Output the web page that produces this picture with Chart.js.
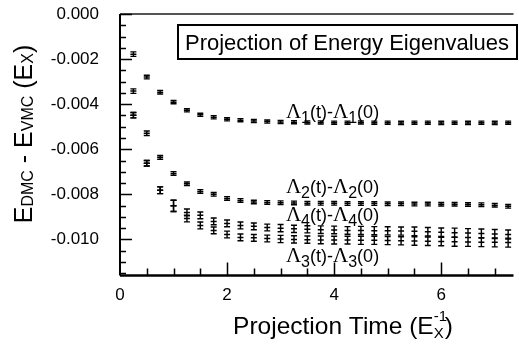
<!DOCTYPE html>
<html>
<head>
<meta charset="utf-8">
<script src="https://cdn.jsdelivr.net/npm/chart.js@4.4.0/dist/chart.umd.min.js"></script>
<style>
  html, body { margin: 0; padding: 0; background: #fff; }
  #wrap { width: 519px; height: 345px; }
</style>
</head>
<body>
<div id="wrap"><canvas id="chart"></canvas></div>
<script>
// projection times (1/E_X)
const times = [0.25, 0.5, 0.75, 1.0, 1.25, 1.5, 1.75, 2.0, 2.25, 2.5, 2.75, 3.0, 3.25, 3.5, 3.75,
               4.0, 4.25, 4.5, 4.75, 5.0, 5.25, 5.5, 5.75, 6.0, 6.25, 6.5, 6.75, 7.0, 7.25];

const lambda1 = [-0.00178, -0.00280, -0.00347, -0.00391, -0.00427, -0.00447, -0.00458, -0.00467, -0.00471, -0.00475,
                 -0.00477, -0.00479, -0.00480, -0.00481, -0.00481, -0.00482, -0.00482, -0.00481, -0.00482, -0.00482,
                 -0.00483, -0.00482, -0.00482, -0.00483, -0.00482, -0.00483, -0.00482, -0.00483, -0.00482];
const lambda1Err = [0.0001, 0.00008, 0.00008, 0.00007, 0.00007, 0.00007, 0.00007, 0.00007, 0.00007, 0.00007,
                    0.00007, 0.00007, 0.00007, 0.00007, 0.00007, 0.00007, 0.00007, 0.00007, 0.00007, 0.00007,
                    0.00007, 0.00007, 0.00007, 0.00007, 0.00007, 0.00007, 0.00007, 0.00007, 0.00007];

const lambda2 = [-0.00342, -0.00529, -0.00636, -0.00707, -0.00753, -0.00787, -0.00800, -0.00818, -0.00827, -0.00834,
                 -0.00836, -0.00837, -0.00838, -0.00839, -0.00840, -0.00840, -0.00841, -0.00841, -0.00841, -0.00842,
                 -0.00842, -0.00843, -0.00843, -0.00844, -0.00844, -0.00845, -0.00846, -0.00848, -0.00853];
const lambda2Err = [0.0001, 0.0001, 0.00008, 0.00008, 0.00008, 0.00008, 0.00008, 0.00008, 0.00008, 0.00008,
                    0.00008, 0.00008, 0.00008, 0.00008, 0.00008, 0.00008, 0.00008, 0.00008, 0.00008, 0.00008,
                    0.00008, 0.00008, 0.00008, 0.00008, 0.00008, 0.00008, 0.00008, 0.00008, 0.00008];

const lambda3 = [-0.00449, -0.00662, -0.00782, -0.00851, -0.00907, -0.00938, -0.00960, -0.00978, -0.00991, -0.00993,
                 -0.00996, -0.00998, -0.01000, -0.01001, -0.01002, -0.01003, -0.01003, -0.01004, -0.01004, -0.01005,
                 -0.01006, -0.01007, -0.01008, -0.01009, -0.01010, -0.01011, -0.01012, -0.01013, -0.01014];
const lambda3Err = [0.00012, 0.00012, 0.00015, 0.00025, 0.00015, 0.00015, 0.00015, 0.00015, 0.00015, 0.00015,
                    0.00015, 0.00016, 0.00016, 0.00016, 0.00017, 0.00017, 0.00017, 0.00018, 0.00018, 0.00018,
                    0.00018, 0.00019, 0.00019, 0.00019, 0.0002, 0.0002, 0.0002, 0.0002, 0.0002];

const lambda4 = [-0.00449, -0.00662, -0.00782, -0.00851, -0.00880, -0.00893, -0.00920, -0.00929, -0.00938, -0.00942,
                 -0.00947, -0.00950, -0.00953, -0.00955, -0.00957, -0.00958, -0.00960, -0.00960, -0.00961, -0.00962,
                 -0.00963, -0.00964, -0.00966, -0.00968, -0.00970, -0.00972, -0.00974, -0.00976, -0.00978];
const lambda4Err = [0.00012, 0.00012, 0.00015, 0.00025, 0.00015, 0.00015, 0.00015, 0.00015, 0.00015, 0.00015,
                    0.00015, 0.00016, 0.00016, 0.00016, 0.00017, 0.00017, 0.00017, 0.00018, 0.00018, 0.00018,
                    0.00018, 0.00019, 0.00019, 0.00019, 0.0002, 0.0002, 0.0002, 0.0002, 0.0002];

const seriesNames = ['1', '2', '3', '4'];
// where each curve label ends (data coords: t, energy)
const labelAnchors = [[4.84, -0.00462], [4.84, -0.00796], [4.84, -0.01098], [4.84, -0.00920]];

const xTicks = [0, 2, 4, 6];
const yTicks = [0, -0.002, -0.004, -0.006, -0.008, -0.010];

const SANS = "'Liberation Sans', Arial, sans-serif";
const SERIF = "'Liberation Serif', 'Times New Roman', serif";

function pts(vals) { return vals.map((v, i) => ({ x: times[i], y: v })); }

// draw a run of text pieces with different fonts / baseline shifts
function drawRuns(ctx, runs, x, y, align) {
  let w = 0;
  runs.forEach(r => { ctx.font = r.f; w += ctx.measureText(r.t).width; });
  let cx = align === 'right' ? x - w : align === 'center' ? x - w / 2 : x;
  runs.forEach(r => {
    ctx.font = r.f;
    ctx.fillText(r.t, cx, y + (r.dy || 0));
    cx += ctx.measureText(r.t).width;
  });
}

const decor = {
  id: 'decor',
  afterDatasetsDraw(chart) {
    const { ctx, scales: { x, y } } = chart;
    ctx.save();
    ctx.strokeStyle = '#000';
    ctx.lineWidth = 1.4;
    // error bars
    chart.data.datasets.forEach(ds => {
      ds.data.forEach((p, j) => {
        const px = x.getPixelForValue(p.x);
        const top = y.getPixelForValue(p.y + ds.errors[j]);
        const bot = y.getPixelForValue(p.y - ds.errors[j]);
        ctx.beginPath();
        ctx.moveTo(px, top); ctx.lineTo(px, bot);
        ctx.moveTo(px - 3, top); ctx.lineTo(px + 3, top);
        ctx.moveTo(px - 3, bot); ctx.lineTo(px + 3, bot);
        ctx.stroke();
      });
    });
    ctx.restore();
  },
  afterDraw(chart) {
    const { ctx, chartArea: a, scales: { x, y } } = chart;
    ctx.save();
    // frame
    ctx.strokeStyle = '#555';
    ctx.lineWidth = 2;
    ctx.beginPath(); ctx.moveTo(a.left, a.top); ctx.lineTo(a.right, a.top); ctx.stroke();
    ctx.strokeStyle = '#000';
    ctx.lineWidth = 2;
    ctx.beginPath(); ctx.moveTo(a.left, a.top); ctx.lineTo(a.left, a.bottom); ctx.stroke();
    ctx.lineWidth = 2.5;
    ctx.beginPath(); ctx.moveTo(a.left, a.bottom); ctx.lineTo(a.right, a.bottom); ctx.stroke();

    // inward ticks
    ctx.lineWidth = 1.5;
    ctx.beginPath();
    for (let v = 0; v >= -0.0116; v -= 0.0005) {
      const py = Math.round(y.getPixelForValue(v)) + 0.5;
      const major = Math.abs(v / 0.002 - Math.round(v / 0.002)) < 1e-6;
      ctx.moveTo(a.left, py); ctx.lineTo(a.left + (major ? 12 : 6), py);
    }
    for (let v = 0.5; v <= 7.3; v += 0.5) {
      const px = Math.round(x.getPixelForValue(v)) + 0.5;
      const major = v % 2 === 0;
      ctx.moveTo(px, a.bottom); ctx.lineTo(px, a.bottom - (major ? 13 : 7));
    }
    ctx.stroke();

    // title box
    ctx.lineWidth = 2;
    ctx.strokeRect(178, 25, 339, 34);
    ctx.fillStyle = '#000';
    ctx.textBaseline = 'alphabetic';
    ctx.font = '22px ' + SANS;
    ctx.textAlign = 'center';
    ctx.fillText('Projection of Energy Eigenvalues', 347, 50);
    ctx.textAlign = 'left';

    // curve labels
    seriesNames.forEach((n, i) => {
      const lx = x.getPixelForValue(labelAnchors[i][0]);
      const ly = y.getPixelForValue(labelAnchors[i][1]);
      drawRuns(ctx, [
        { t: 'Λ', f: '21px ' + SERIF },
        { t: n, f: '16px ' + SANS, dy: 5 },
        { t: '(t)-', f: '18px ' + SANS },
        { t: 'Λ', f: '21px ' + SERIF },
        { t: n, f: '16px ' + SANS, dy: 5 },
        { t: '(0)', f: '18px ' + SANS }
      ], lx, ly, 'right');
    });

    // x axis title
    const big = '24.5px ' + SANS, small = '15px ' + SANS;
    ctx.font = big;
    const pre = 'Projection Time (E';
    const wPre = ctx.measureText(pre).width;
    ctx.font = small;
    const wX = ctx.measureText('X').width;
    ctx.font = big;
    const wTot = wPre + wX + ctx.measureText(')').width + 1;
    let sx = 343 - wTot / 2;
    ctx.fillText(pre, sx, 334);
    ctx.font = small;
    ctx.fillText('X', sx + wPre, 338);
    ctx.fillText('-1', sx + wPre, 321);
    ctx.font = big;
    ctx.fillText(')', sx + wPre + wX + 1, 334);

    // y axis title (rotated)
    ctx.translate(32, 134);
    ctx.rotate(-Math.PI / 2);
    drawRuns(ctx, [
      { t: 'E', f: '25px ' + SANS },
      { t: 'DMC', f: '16px ' + SANS, dy: 1 },
      { t: ' - E', f: '25px ' + SANS },
      { t: 'VMC', f: '16px ' + SANS, dy: 1 },
      { t: ' (E', f: '25px ' + SANS },
      { t: 'X', f: '16px ' + SANS, dy: 1 },
      { t: ')', f: '25px ' + SANS }
    ], 0, 0, 'center');
    ctx.restore();
  }
};

function mkSet(vals, errs) {
  return {
    data: pts(vals),
    errors: errs,
    pointStyle: 'line',
    pointRadius: 3,
    pointBorderWidth: 1.5,
    borderColor: '#000',
    backgroundColor: '#000',
    showLine: false
  };
}

new Chart(document.getElementById('chart'), {
  type: 'scatter',
  data: {
    datasets: [
      mkSet(lambda1, lambda1Err),
      mkSet(lambda2, lambda2Err),
      mkSet(lambda3, lambda3Err),
      mkSet(lambda4, lambda4Err)
    ]
  },
  options: {
    responsive: true,
    maintainAspectRatio: false,
    animation: false,
    layout: { padding: { top: 14, right: 0, left: 0, bottom: 0 } },
    plugins: { legend: { display: false }, tooltip: { enabled: false } },
    scales: {
      x: {
        type: 'linear', min: 0, max: 7.35,
        afterBuildTicks: s => { s.ticks = xTicks.map(v => ({ value: v })); },
        afterFit: s => { s.height = 69.5; s.paddingLeft = 0; s.paddingRight = 0; },
        grid: { display: false, drawTicks: false },
        border: { display: false },
        ticks: { color: '#000', font: { family: SANS, size: 17 }, padding: 10, maxRotation: 0, callback: v => String(v) }
      },
      y: {
        type: 'linear', min: -0.0116, max: 0,
        afterBuildTicks: s => { s.ticks = yTicks.map(v => ({ value: v })); },
        afterFit: s => { s.width = 120; s.paddingTop = 0; s.paddingBottom = 0; },
        grid: { display: false, drawTicks: false },
        border: { display: false },
        ticks: { color: '#000', font: { family: SANS, size: 17 }, padding: 21, callback: v => v.toFixed(3) }
      }
    }
  },
  plugins: [decor]
});
</script>
</body>
</html>
